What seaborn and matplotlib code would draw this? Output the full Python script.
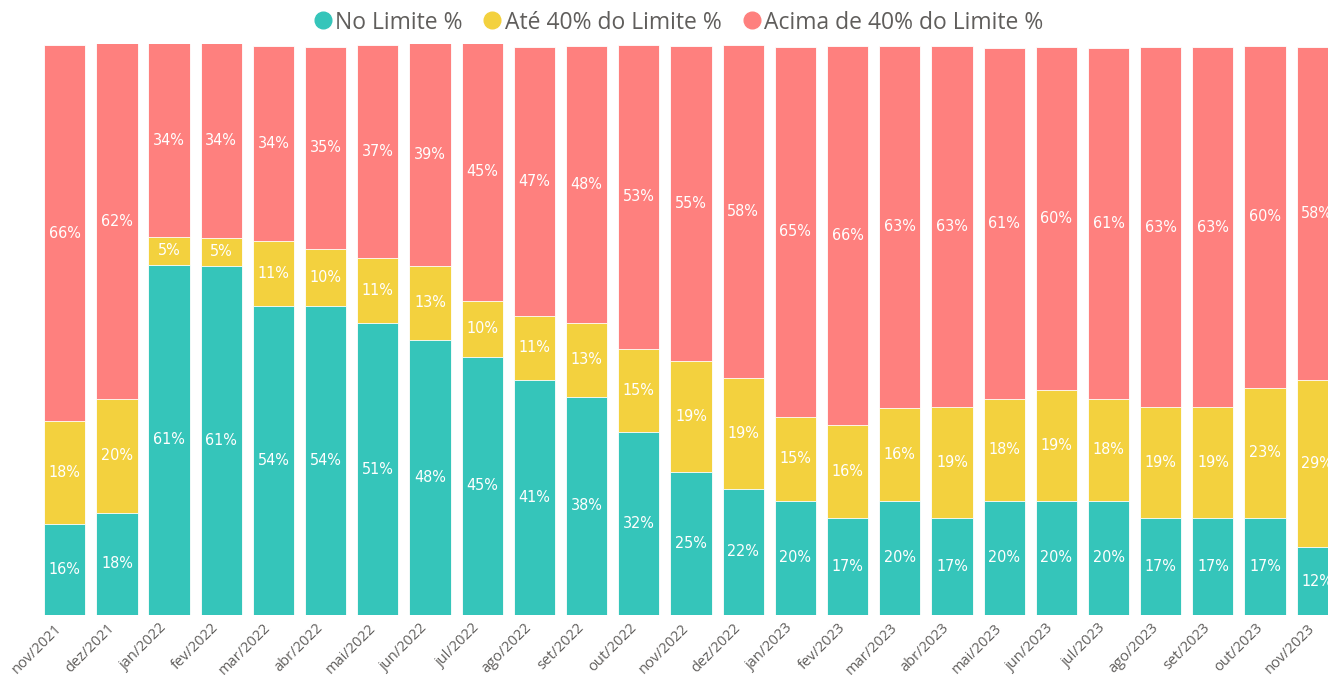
import numpy as np
import pandas as pd
import matplotlib
matplotlib.use("Agg")
from matplotlib import pyplot as plt
from matplotlib.lines import Line2D
from matplotlib.transforms import ScaledTranslation
import seaborn as sns

sns.set_theme(style="white")
plt.rcParams['font.family'] = ['Open Sans', 'DejaVu Sans']

# Data
months = ["nov/2021", "dez/2021", "jan/2022", "fev/2022", "mar/2022", "abr/2022", "mai/2022",
          "jun/2022", "jul/2022", "ago/2022", "set/2022", "out/2022", "nov/2022", "dez/2022",
          "jan/2023", "fev/2023", "mar/2023", "abr/2023", "mai/2023", "jun/2023", "jul/2023",
          "ago/2023", "set/2023", "out/2023", "nov/2023"]
no_limite = [15.9, 17.9, 61.3, 61.2, 54.1, 54.1, 51.1, 48.2, 45.2, 41.2, 38.2, 32.0, 25.0,
             22.1, 20.0, 17.0, 20.0, 17.0, 20.0, 20.0, 20.0, 17.0, 17.0, 17.0, 11.9]
ate_40 = [18.0, 19.9, 4.9, 4.9, 11.4, 10.0, 11.4, 13.0, 9.8, 11.2, 13.0, 14.6, 19.4,
          19.4, 14.7, 16.3, 16.3, 19.4, 17.9, 19.4, 17.9, 19.4, 19.4, 22.8, 29.2]
acima_40 = [66.0, 62.4, 33.9, 34.0, 34.2, 35.4, 37.3, 38.9, 45.2, 47.1, 48.4, 53.3, 55.2,
            58.3, 64.8, 66.4, 63.4, 63.2, 61.4, 60.1, 61.4, 63.0, 63.0, 59.9, 58.3]

series = ["No Limite %", "Até 40% do Limite %", "Acima de 40% do Limite %"]
colors = ["#35C5BA", "#F3D13E", "#FE807E"]

df = pd.DataFrame({"mes": months, "teal": no_limite, "yellow": ate_40, "red": acima_40})
df["c1"] = df["teal"]
df["c2"] = df["teal"] + df["yellow"]
df["c3"] = df["c2"] + df["red"]

fig = plt.figure(figsize=(13.28, 6.75), dpi=100)
ax = fig.add_axes([0, 60 / 675, 1, 571 / 675])

# stacked bars by overlaying cumulative totals
for col, color in zip(["c3", "c2", "c1"], colors[::-1]):
    sns.barplot(data=df, x="mes", y=col, color=color, width=0.79, ax=ax,
                saturation=1, edgecolor="#ffffff", linewidth=0.6)

# segment labels
for i, row in df.iterrows():
    bottoms = [0, row["c1"], row["c2"]]
    for b, v in zip(bottoms, [row["teal"], row["yellow"], row["red"]]):
        ax.text(i, b + v / 2, f"{round(v)}%", ha="center", va="center",
                color="white", fontsize=11.5, family="DejaVu Sans",
                fontstretch="condensed")

ax.set_xlim((0 - 64.7) / 52.19, (1328 - 64.7) / 52.19)
ax.set_ylim(0, 100)
ax.set_xlabel("")
ax.set_ylabel("")
ax.set_yticks([])
sns.despine(ax=ax, left=True, bottom=True)
ax.tick_params(axis="x", length=0, pad=4, labelsize=10.5, labelcolor="#605E5C")
shift = ScaledTranslation(-10 / 100, 0, fig.dpi_scale_trans)
for lbl in ax.get_xticklabels():
    lbl.set_rotation(45)
    lbl.set_ha("right")
    lbl.set_rotation_mode("anchor")
    lbl.set_transform(lbl.get_transform() + shift)

handles = [Line2D([0], [0], marker="o", linestyle="", markersize=12,
                  markerfacecolor=c, markeredgecolor=c) for c in colors]
fig.legend(handles, series, loc="upper center", bbox_to_anchor=(0.51, 1.015), ncol=3,
           frameon=False, fontsize=16.5, labelcolor="#605E5C", handletextpad=0.05,
           columnspacing=0.8, handlelength=1.0)

fig.savefig("out.png", dpi=100)
